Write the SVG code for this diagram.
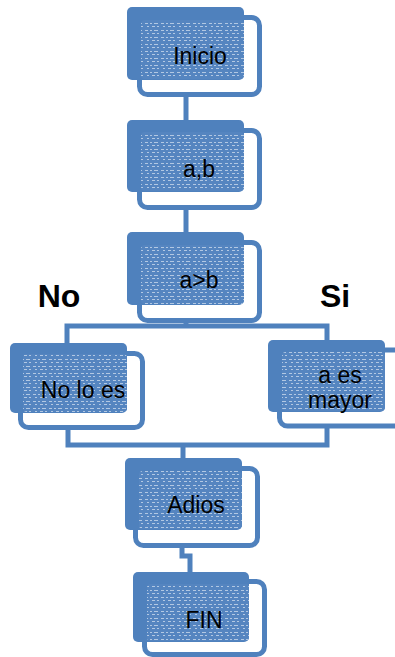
<svg xmlns="http://www.w3.org/2000/svg" width="395" height="657" viewBox="0 0 395 657">
<defs>
<pattern id="tex" width="16" height="7" patternUnits="userSpaceOnUse">
<rect width="16" height="7" fill="#5585c0"/>
<g fill="#ffffff" opacity="0.55">
<rect x="1" y="2" width="3" height="1"/><rect x="6" y="2" width="2" height="1"/><rect x="10" y="2" width="4" height="1"/>
<rect x="3" y="5" width="2" height="1"/><rect x="8" y="5" width="3" height="1"/><rect x="13" y="5" width="2" height="1"/>
</g>
</pattern>
</defs>
<style>
.outline{fill:none;stroke:#4f81bd;stroke-width:5}
.solid{fill:#4f81bd}
.tex{fill:url(#tex)}
.lbl{font-family:"Liberation Sans",Arial,sans-serif;font-size:23px;fill:#000;text-anchor:middle}
.big{font-family:"Liberation Sans",Arial,sans-serif;font-size:32px;font-weight:bold;fill:#000;text-anchor:middle}
.conn{fill:none;stroke:#4f81bd;stroke-width:5}
</style>
<rect width="395" height="657" fill="#ffffff"/>
<g id="connectors">
<line class="conn" x1="186" y1="97" x2="186" y2="120"/>
<line class="conn" x1="186" y1="210" x2="186" y2="232"/>
<path class="conn" d="M186 323 V326 M67 343 V326 H327 V340"/>
<path class="conn" d="M68 430 V445 H327 V428 M183 445 V458"/>
<path class="conn" d="M182 548 V556 H190 V572"/>
</g>
<g id="label-no"><text class="big" x="59" y="307">No</text></g>
<g id="label-si"><text class="big" x="335" y="307">Si</text></g>
<g id="inicio">
<rect class="outline" x="139.5" y="17.5" width="120" height="77" rx="8"/>
<rect class="solid" x="127" y="7" width="117" height="73" rx="5"/>
<rect class="tex" x="141" y="20" width="103" height="59" rx="4"/>
<text class="lbl" x="200" y="64">Inicio</text>
</g>
<g id="ab">
<rect class="outline" x="139.5" y="130.5" width="120" height="77" rx="8"/>
<rect class="solid" x="127" y="120" width="117" height="72" rx="5"/>
<rect class="tex" x="141" y="132" width="103" height="59" rx="4"/>
<text class="lbl" x="199" y="177">a,b</text>
</g>
<g id="cond">
<rect class="outline" x="139.5" y="242.5" width="120" height="78" rx="8"/>
<rect class="solid" x="127" y="232" width="117" height="73" rx="5"/>
<rect class="tex" x="141" y="245" width="103" height="59" rx="4"/>
<text class="lbl" x="199" y="288">a&gt;b</text>
</g>
<g id="nolo">
<rect class="outline" x="20.5" y="353.5" width="122" height="74" rx="8"/>
<rect class="solid" x="10" y="343" width="117" height="70" rx="5"/>
<rect class="tex" x="23" y="354" width="104" height="58" rx="4"/>
<text class="lbl" x="83" y="398">No lo es</text>
</g>
<g id="mayor">
<rect class="outline" x="279.5" y="350" width="140" height="76" rx="8"/>
<rect class="solid" x="268" y="340" width="117" height="72" rx="5"/>
<rect class="tex" x="282" y="352" width="103" height="59" rx="4"/>
<text class="lbl" x="340" y="383">a es</text>
<text class="lbl" x="340" y="408">mayor</text>
</g>
<g id="adios">
<rect class="outline" x="135.5" y="468.5" width="122" height="77" rx="8"/>
<rect class="solid" x="125" y="458" width="117" height="72" rx="5"/>
<rect class="tex" x="139" y="471" width="103" height="58" rx="4"/>
<text class="lbl" x="196" y="513">Adios</text>
</g>
<g id="fin">
<rect class="outline" x="144.5" y="581.5" width="120" height="73" rx="8"/>
<rect class="solid" x="133" y="572" width="116" height="70" rx="5"/>
<rect class="tex" x="147" y="584" width="102" height="57" rx="4"/>
<text class="lbl" x="204" y="628">FIN</text>
</g>
</svg>
